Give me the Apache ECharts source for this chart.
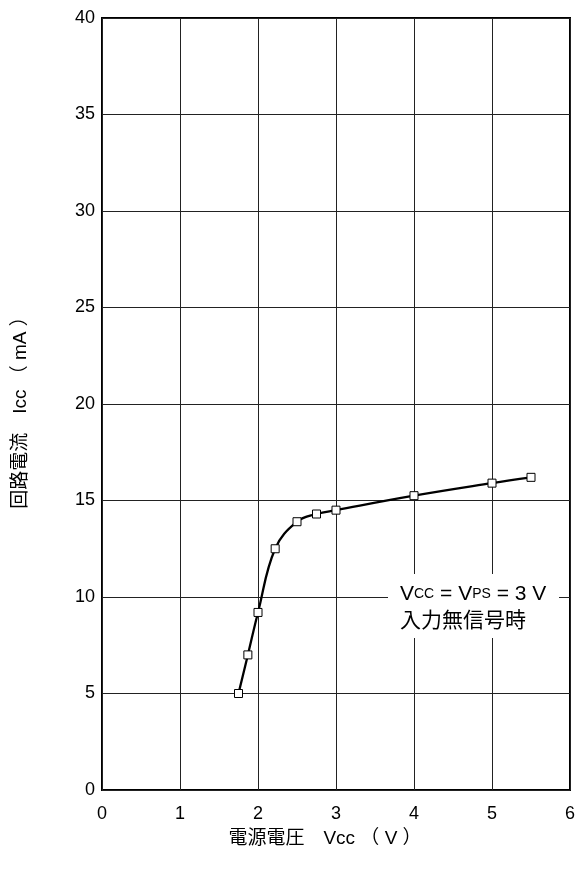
<!DOCTYPE html>
<html><head><meta charset="utf-8">
<script src="https://cdn.jsdelivr.net/npm/echarts@6/dist/echarts.min.js"></script>
<style>html,body{margin:0;padding:0;background:#fff}#c{width:579px;height:878px}</style>
</head><body><div id="c"></div>
<script>
const vcc = [1.75, 1.87, 2.0, 2.22, 2.5, 2.75, 3.0, 4.0, 5.0, 5.5];
const icc = [5.0, 7.0, 9.2, 12.5, 13.9, 14.3, 14.5, 15.25, 15.9, 16.2];
const xName = '電源電圧　Vcc （ V ）';
const yName = '回路電流　Icc （ mA ）';
const font = '"Liberation Sans", Arial, "Noto Sans CJK JP", sans-serif';
const chart = echarts.init(document.getElementById('c'));
chart.setOption({
  animation: false,
  backgroundColor: '#fff',
  textStyle: {fontFamily: font},
  grid: {left: 102, top: 18, right: 9, bottom: 88, show: true, borderColor: '#000', borderWidth: 2, containLabel: false},
  xAxis: {
    type: 'value', min: 0, max: 6, interval: 1,
    name: xName, nameLocation: 'middle', nameGap: 39,
    nameTextStyle: {fontSize: 19, color: '#000', fontFamily: font, padding: [0, 22, 0, 0]},
    axisLine: {show: false}, axisTick: {show: false},
    axisLabel: {fontSize: 18, color: '#000', margin: 15, fontFamily: font},
    splitLine: {show: true, lineStyle: {color: '#222', width: 1}}
  },
  yAxis: {
    type: 'value', min: 0, max: 40, interval: 5,
    name: yName, nameLocation: 'middle', nameGap: 72, nameRotate: 90,
    nameTextStyle: {fontSize: 19, color: '#000', fontFamily: font, padding: [0, 8, 0, 0]},
    axisLine: {show: false}, axisTick: {show: false},
    axisLabel: {fontSize: 18, color: '#000', margin: 7, fontFamily: font},
    splitLine: {show: true, lineStyle: {color: '#222', width: 1}}
  },
  series: [{
    type: 'line', smooth: 0.4,
    data: vcc.map((v, i) => [v, icc[i]]),
    lineStyle: {color: '#000', width: 2.3},
    symbol: 'rect', symbolSize: 8,
    itemStyle: {color: '#fff', borderColor: '#000', borderWidth: 1}
  }],
  graphic: [
    {type: 'rect', shape: {x: 388, y: 574, width: 171, height: 64}, style: {fill: '#fff'}, z: 10},
    {type: 'text', x: 400, y: 581, z: 11, style: {
      text: '{b|V}{s|CC}{b| = V}{s|PS}{b| = 3 V}\n{b|入力無信号時}',
      rich: {
        b: {fontSize: 21, fill: '#000', fontFamily: font, lineHeight: 27},
        s: {fontSize: 14, fill: '#000', fontFamily: font, lineHeight: 27}
      }
    }}
  ]
});
</script></body></html>
